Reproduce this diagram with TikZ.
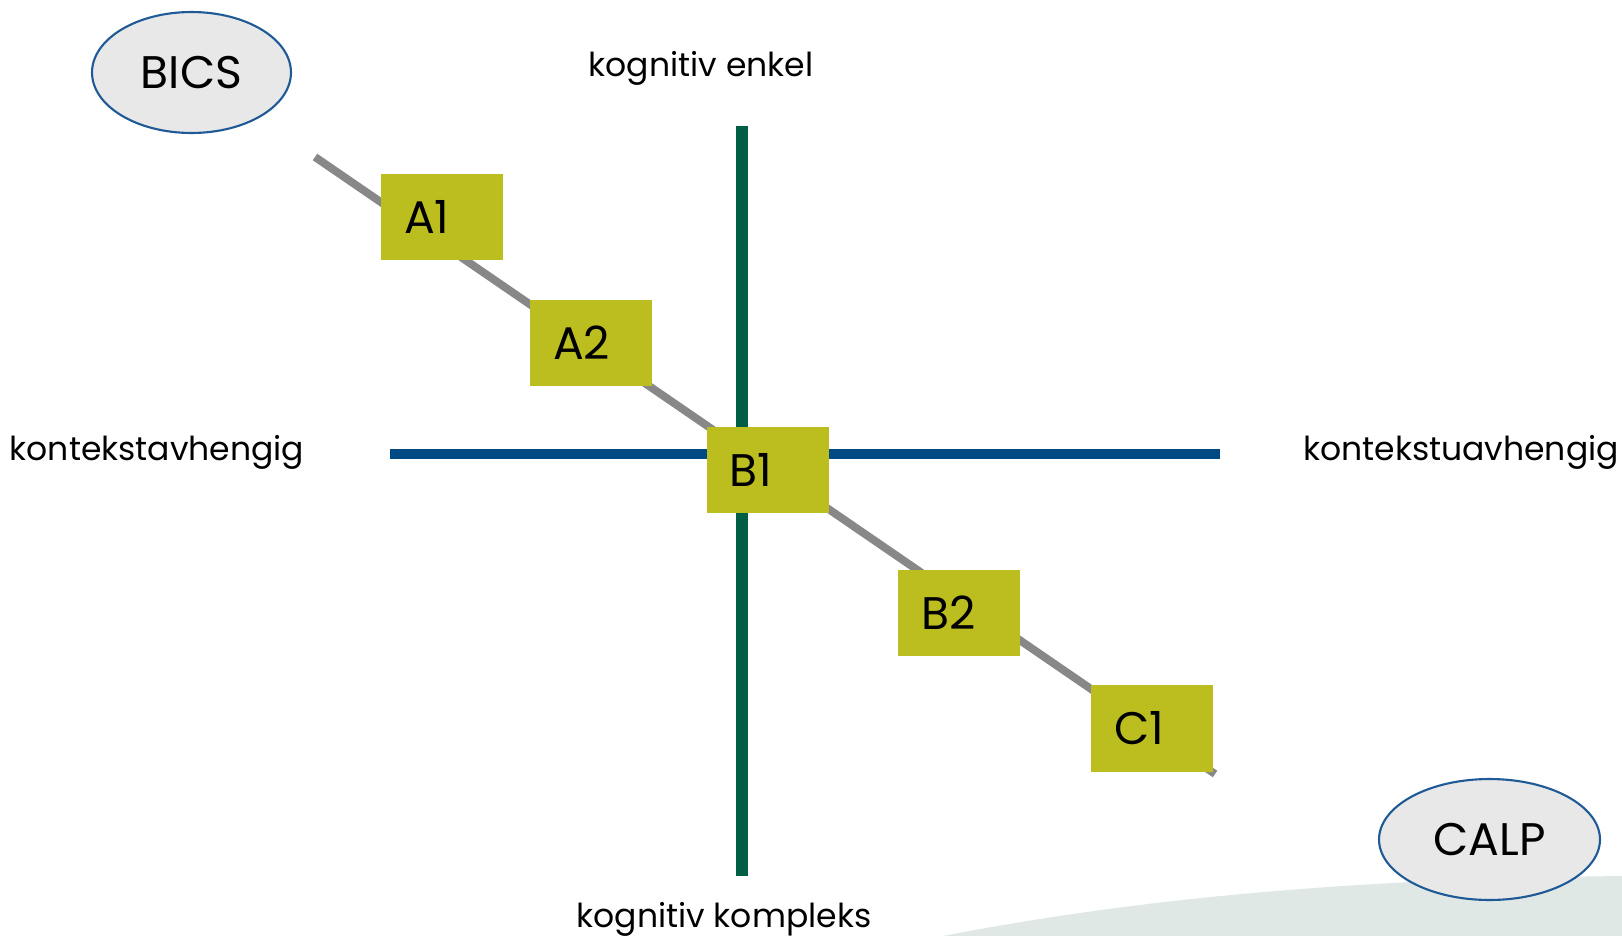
\documentclass[tikz,border=0pt]{standalone}
\usepackage{fontspec}
\setmainfont{Poppins}
\usetikzlibrary{shapes.geometric}
\usetikzlibrary{positioning}
\definecolor{levelfill}{HTML}{BCBE20}
\definecolor{axisgreen}{HTML}{005E45}
\definecolor{axisblue}{HTML}{004A84}
\definecolor{pathgray}{HTML}{888888}
\definecolor{ovalfill}{HTML}{E8E8E8}
\definecolor{ovalline}{HTML}{1F5A96}
\definecolor{swath}{HTML}{E0E8E5}

\begin{document}
\begin{tikzpicture}[x=0.02cm, y=-0.02cm,
    level/.style={fill=levelfill, minimum width=2.44cm, minimum height=1.74cm, inner xsep=0.46cm, inner ysep=0pt,
      text width=1.52cm, align=left, font=\fontsize{26}{30}\selectfont},
    oval/.style={ellipse, draw=ovalline, line width=1.2pt, fill=ovalfill, inner sep=0pt, font=\fontsize{26}{30}\selectfont},
    axislabel/.style={font=\fontsize{18.8}{22}\selectfont}]
    \useasboundingbox (0,0) rectangle (1622,936);
    \fill[swath] (943,936) .. controls (1200,886) and (1450,878) .. (1622,876) -- (1622,936) -- cycle;

    \coordinate (pstart) at (315,157);
    \coordinate (pend) at (1215,774);
    \coordinate (vtop) at (742,126);
    \coordinate (vbot) at (742,876);
    \coordinate (hleft) at (390,454);
    \coordinate (hright) at (1220,454);

    \draw[pathgray, line width=4.5pt] (pstart) -- (pend);
    \draw[axisblue, line width=6pt] (hleft) -- (hright);
    \draw[axisgreen, line width=6.5pt] (vtop) -- (vbot);

    \node[oval, minimum width=3.98cm, minimum height=2.42cm] (bics) at (191.5,72.5) {BICS};
    \node[oval, minimum width=4.42cm, minimum height=2.42cm] (calp) at (1489.5,839.5) {CALP};

    \node[level] (a1) at (442,217) {A1};
    \node[level] (a2) at (591,343) {A2};
    \node[level] (b1) at (767.5,470) {B1};
    \node[level] (b2) at (959,613) {B2};
    \node[level] (c1) at (1152,728) {C1};

    \node[axislabel] (enkel) at (701,68) {kognitiv enkel};
    \node[axislabel] (kompleks) at (724,919) {kognitiv kompleks};
    \node[axislabel] (avh) at (157,452) {kontekstavhengig};
    \node[axislabel] (uavh) at (1461,452) {kontekstuavhengig};
\end{tikzpicture}
\end{document}
